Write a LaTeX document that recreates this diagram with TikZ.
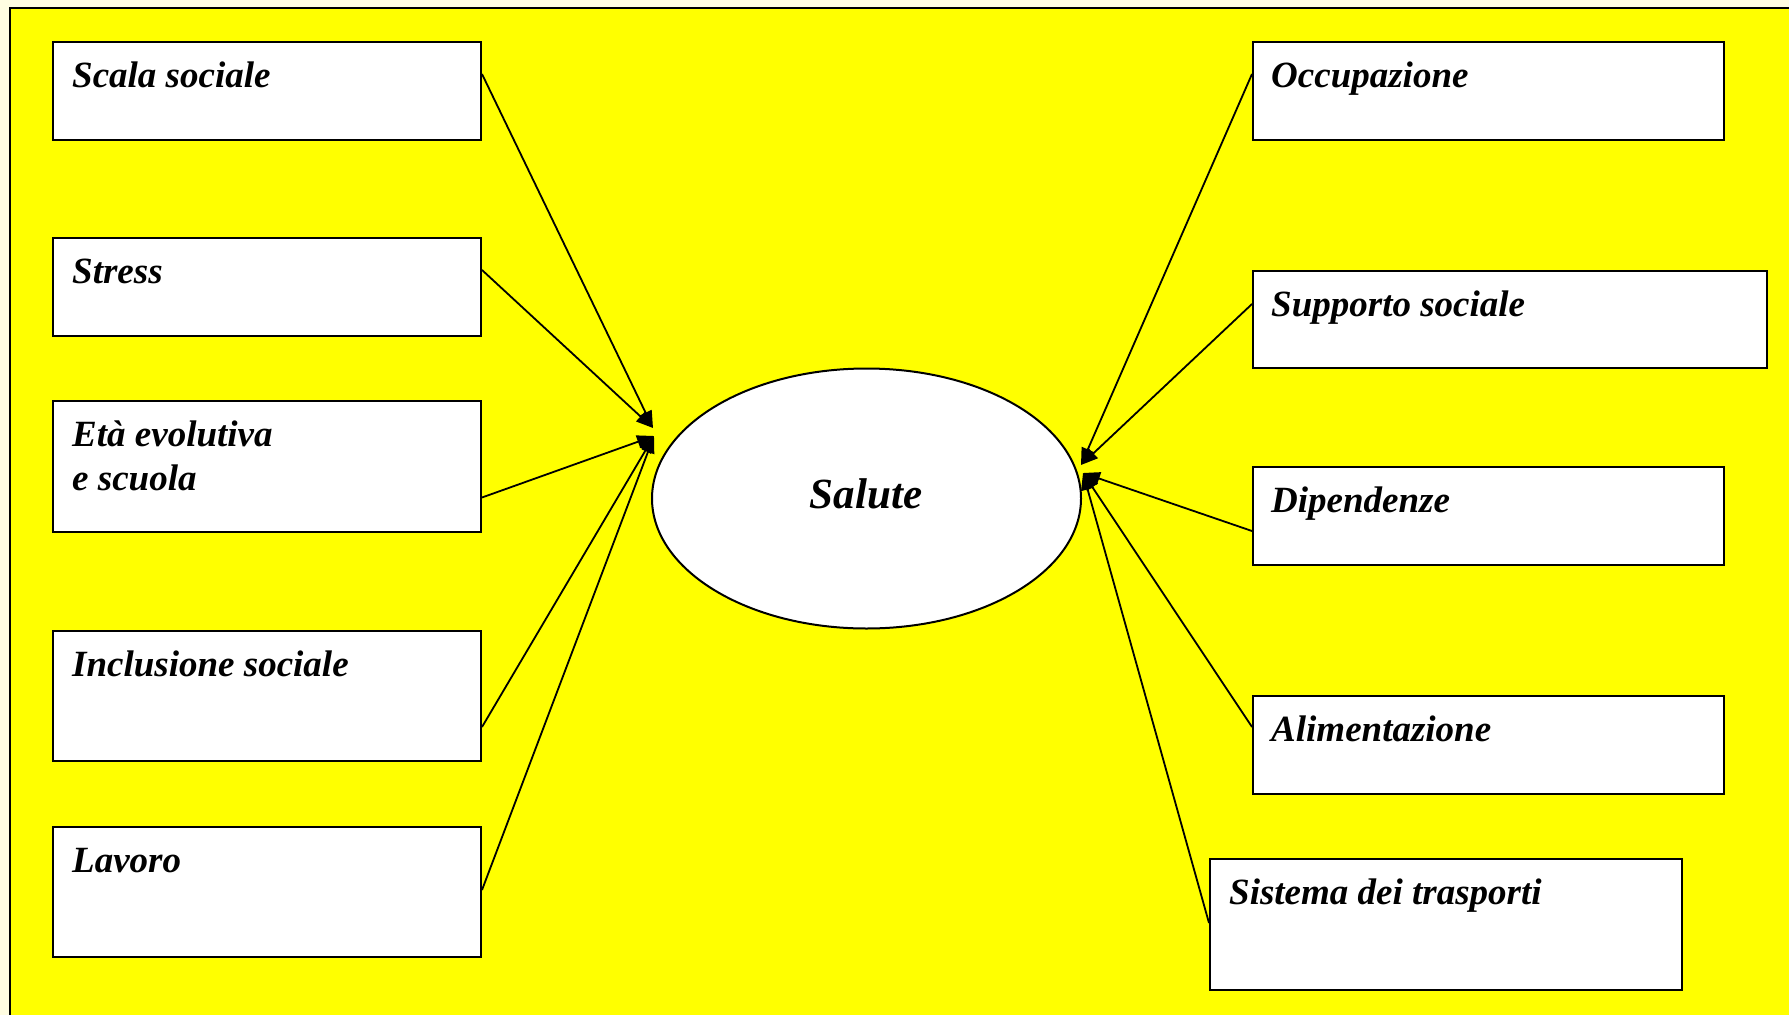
\documentclass[tikz,border=0pt]{standalone}
\usepackage{fontspec}
\setmainfont{Liberation Serif}
\usetikzlibrary{arrows.meta,calc,shapes.geometric}
\definecolor{cream}{RGB}{255,253,225}
\definecolor{panelyellow}{RGB}{255,255,0}
\begin{document}
\begin{tikzpicture}[x=1pt,y=-1pt,
  boxnode/.style={draw=black,line width=2pt,fill=white,rectangle,anchor=north west,inner sep=0pt},
  lbl/.style={anchor=base west,inner sep=0pt,font=\fontsize{37}{44}\selectfont\bfseries\itshape,align=left},
  conn/.style={draw=black,line width=1.8pt,-{Triangle[length=17pt,width=13pt]}}]
\useasboundingbox (0,0) rectangle (1789,1015);
\fill[cream] (0,0) rectangle (1789,1015);
\fill[panelyellow] (10,8) rectangle (1789,1015);
\draw[line width=2pt] (10,1015) -- (10,8) -- (1789,8);
% left boxes
\node[boxnode,minimum width=428pt,minimum height=98pt] (scala) at (52,41) {};
\node[boxnode,minimum width=428pt,minimum height=98pt] (stress) at (52,237) {};
\node[boxnode,minimum width=428pt,minimum height=131pt] (eta) at (52,400) {};
\node[boxnode,minimum width=428pt,minimum height=130pt] (incl) at (52,630) {};
\node[boxnode,minimum width=428pt,minimum height=130pt] (lavoro) at (52,826) {};
% right boxes
\node[boxnode,minimum width=471pt,minimum height=98pt] (occ) at (1252,41) {};
\node[boxnode,minimum width=514pt,minimum height=97pt] (supp) at (1252,270) {};
\node[boxnode,minimum width=471pt,minimum height=98pt] (dip) at (1252,466) {};
\node[boxnode,minimum width=471pt,minimum height=98pt] (alim) at (1252,695) {};
\node[boxnode,minimum width=472pt,minimum height=131pt] (sist) at (1209,858) {};
% labels
\node[lbl] (tscala) at (72,87) {Scala sociale};
\node[lbl] (tstress) at (72,283) {Stress};
\node[lbl] (teta) at (72,490) {Età evolutiva\\e scuola};
\node[lbl] (tincl) at (72,676) {Inclusione sociale};
\node[lbl] (tlavoro) at (72,872) {Lavoro};
\node[lbl] (tocc) at (1271,87) {Occupazione};
\node[lbl] (tsupp) at (1271,316) {Supporto sociale};
\node[lbl] (tdip) at (1271,512) {Dipendenze};
\node[lbl] (talim) at (1271,741) {Alimentazione};
\node[lbl] (tsist) at (1229,904) {Sistema dei trasporti};
% central ellipse
\node[draw=black,line width=2pt,fill=white,ellipse,minimum width=429pt,minimum height=260pt,inner sep=0pt] (salute) at (866.5,498.5) {};
\node[inner sep=0pt,font=\fontsize{43}{50}\selectfont\bfseries\itshape] (tsalute) at (866,494) {Salute};
% arrow targets
\coordinate (tipLa) at (653,428);
\coordinate (tipLb) at (654,436);
\coordinate (tipRa) at (1081,465);
\coordinate (tipRb) at (1083,473);
% connectors
\draw[conn] ($(scala.north east)+(0,33)$) -- (tipLa);
\draw[conn] ($(stress.north east)+(0,33)$) -- (tipLa);
\draw[conn] ($(eta.north east)+(0,97.5)$) -- (tipLb);
\draw[conn] ($(incl.north east)+(0,97)$) -- (tipLb);
\draw[conn] ($(lavoro.north east)+(0,64)$) -- (tipLb);
\draw[conn] ($(occ.north west)+(0,33)$) -- (tipRa);
\draw[conn] ($(supp.north west)+(0,34)$) -- (tipRa);
\draw[conn] ($(dip.north west)+(0,65)$) -- (tipRb);
\draw[conn] ($(alim.north west)+(0,32)$) -- (tipRb);
\draw[conn] ($(sist.north west)+(0,65)$) -- (tipRb);
\end{tikzpicture}
\end{document}
